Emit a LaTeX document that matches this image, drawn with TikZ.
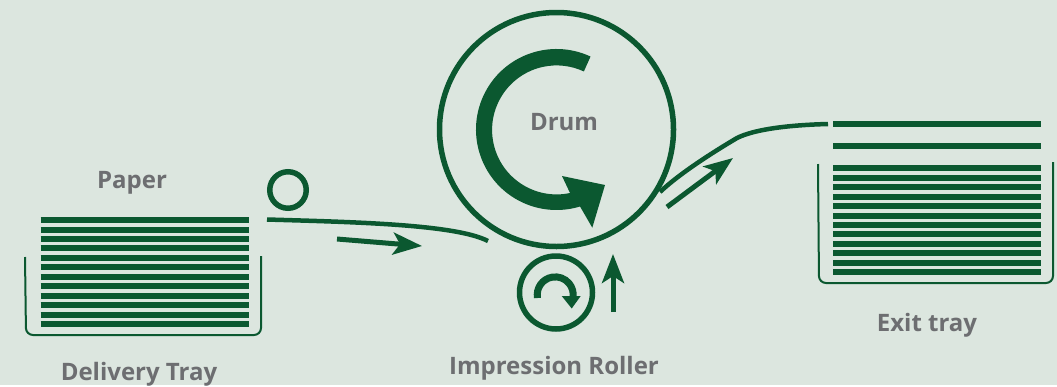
\documentclass[tikz,border=0pt]{standalone}
\usepackage{fontspec}
\setmainfont{Open Sans}
\usetikzlibrary{arrows.meta}
\definecolor{bgpaper}{HTML}{DCE6DF}
\definecolor{inkgreen}{HTML}{0B5830}
\definecolor{labelgrey}{HTML}{6D6E71}
\tikzstyle{label} = [font=\fontsize{24}{28}\selectfont\bfseries, text=labelgrey, inner sep=0pt]
\tikzstyle{roll} = [circle, draw=inkgreen, inner sep=0pt, line width=5.5pt]
\tikzstyle{sheet} = [draw=inkgreen, line width=6pt]
\tikzstyle{tray} = [draw=inkgreen, line width=2pt, rounded corners=7pt]
\tikzstyle{feed} = [draw=inkgreen, line width=4.5pt]
\tikzstyle{flow} = [draw=inkgreen, line width=5pt, -{Stealth[length=29pt, width=22pt, inset=7pt]}]

\begin{document}
\begin{tikzpicture}[x=1pt, y=-1pt]

% Background
\fill [bgpaper] (0, 0) rectangle (1057, 385);

% Rollers
\node (drum) [roll, minimum size=234pt] at (556.5, 129.5) {};
\node (impression) [roll, minimum size=73pt] at (556, 292.5) {};
\node (pickup) [roll, minimum size=36.5pt] at (288, 190) {};

% Labels
\node (paperlabel) [label] at (132, 183) {Paper};
\node (deliverylabel) [label] at (139, 374) {Delivery Tray};
\node (drumlabel) [label] at (564, 122) {Drum};
\node (impressionlabel) [label] at (554, 368) {Impression Roller};
\node (exitlabel) [label] at (927, 325) {Exit tray};

% Sheets
\foreach \y in {220, 230, 239, 248, 258, 267, 277, 286, 296, 305, 315, 324}
  \draw [sheet] (40.5, \y) -- (248.5, \y);
\foreach \y in {124, 146, 168, 178, 187, 197, 206, 216, 225, 234, 244, 253, 263, 272}
  \draw [sheet] (833, \y) -- (1041, \y);

% Trays
\draw [tray] (25, 257) -- (26, 335) -- (261, 335) -- (261, 256);
\draw [tray] (818, 164) -- (819, 283) -- (1053, 283) -- (1053, 162);

% Paper path
\coordinate (feedstart) at (267, 219.5);
\coordinate (feedend) at (488, 241);
\coordinate (exitstart) at (660, 192);
\coordinate (exitend) at (828, 124);
\draw [feed] (feedstart) .. controls (350, 222) and (455, 224) .. (feedend);
\draw [feed] (exitstart) .. controls (680, 173) and (715, 151) .. (737, 138) .. controls (755, 129) and (790, 125) .. (exitend);

% Direction arrows
\coordinate (feedfrom) at (337, 239);
\coordinate (feedto) at (422, 246);
\coordinate (liftfrom) at (613, 312);
\coordinate (liftto) at (613, 254);
\coordinate (exitfrom) at (667, 207);
\coordinate (exitto) at (733, 158);
\draw [flow] (feedfrom) -- (feedto);
\draw [flow] (liftfrom) -- (liftto);
\draw [flow] (exitfrom) -- (exitto);

% Rotation arrows
\fill [inkgreen] ([shift={(65:80.5pt)}]drum.center) arc [start angle=65, end angle=287, radius=80.5pt]
  -- (592.3, 227.7) -- (605, 185) -- (562, 176) -- (570, 193)
  arc [start angle=282, end angle=65, radius=64.5pt] -- cycle;
\draw [inkgreen, line width=7pt] (537.5, 298) arc [start angle=190, end angle=-8, radius=18pt];
\fill [inkgreen] (561.7, 296) -- (580.7, 296) -- (571.7, 308.5) -- cycle;

\end{tikzpicture}
\end{document}
